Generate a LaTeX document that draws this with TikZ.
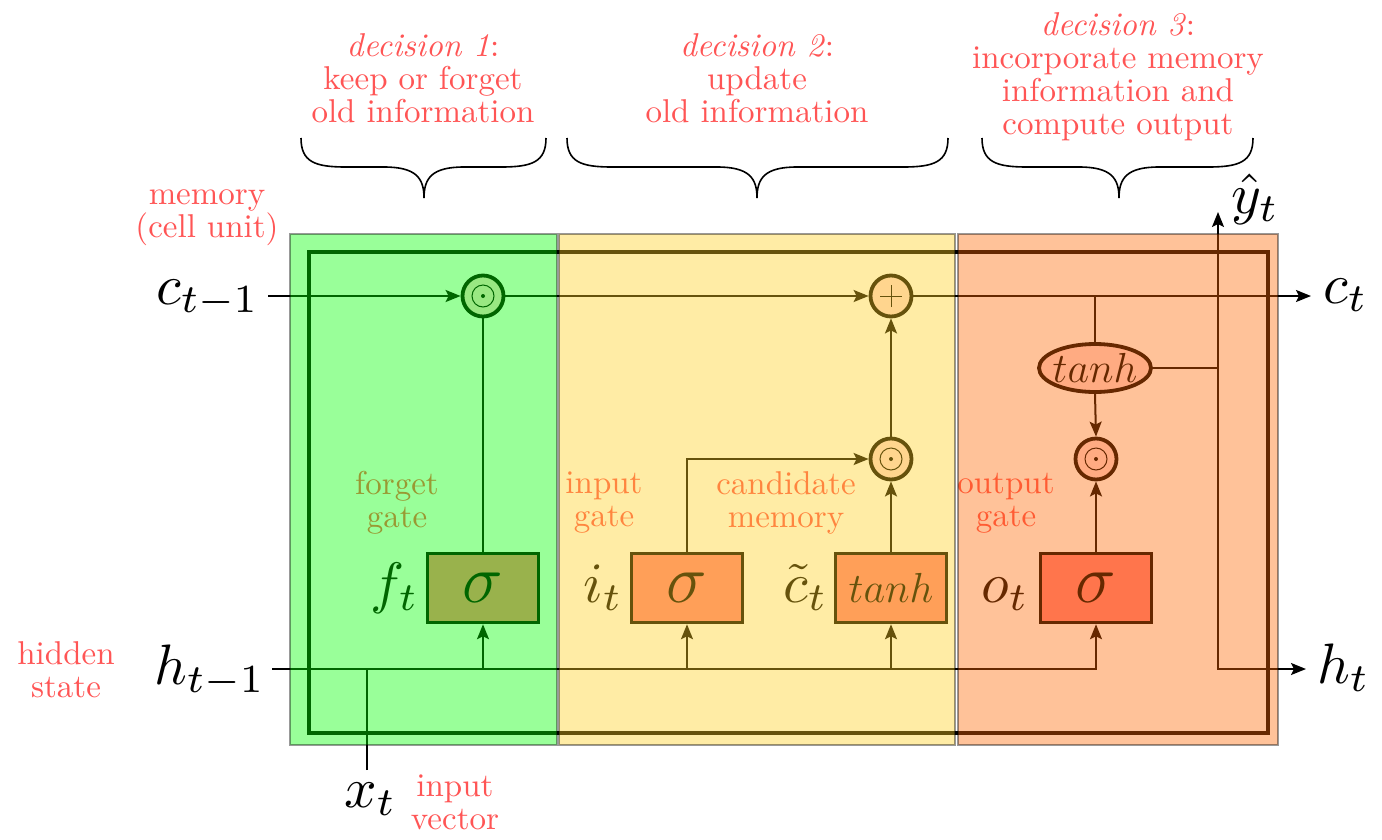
\documentclass[tikz,border=0pt]{standalone}
\usepackage{graphicx}
\usetikzlibrary{arrows.meta,shapes.geometric}
\definecolor{txtred}{RGB}{255,85,85}
\definecolor{pgreen}{RGB}{0,255,0}
\definecolor{pyellow}{RGB}{255,207,30}
\definecolor{porange}{RGB}{255,102,0}
\definecolor{boxfill}{RGB}{255,128,128}
\definecolor{opfill}{RGB}{255,217,217}
\begin{document}
\begin{tikzpicture}[x=1pt,y=-1pt,
  wire/.style={line width=2pt},
  arr/.style={line width=2pt,-{Stealth[length=15pt,width=12pt,inset=3pt]}},
  opnode/.style={circle,draw,line width=3.8pt,fill=opfill,minimum size=41pt,inner sep=0pt},
  gatebox/.style={rectangle,draw,line width=3.5pt,fill=boxfill,minimum width=111pt,minimum height=69pt,inner sep=0pt},
  redtxt/.style={scale=3.3,text=txtred,align=center,font=\fontsize{10}{10}\selectfont},
  mathlbl/.style={scale=5.7,inner sep=0pt,font=\normalsize},
  panel/.style={draw=black,line width=2.5pt,opacity=0.4},
  bracepath/.style={line width=1.6pt}]
\useasboundingbox (0,0) rectangle (1382,839);

% cell border
\draw[line width=4.5pt] (309,252) rectangle (1268,733);

% operation nodes
\node[opnode] (fmul) at (483,296) {};
\node[opnode] (add) at (891,296) {};
\node[opnode] (imul) at (891,459) {};
\node[opnode] (omul) at (1096,459) {};
\foreach \n in {fmul,imul,omul}{
  \draw[line width=1pt] (\n) circle (11pt);
  \fill (\n) circle (2pt);
}
\draw[line width=1pt] ([xshift=-11pt]add.center) -- ([xshift=11pt]add.center);
\draw[line width=1pt] ([yshift=-11pt]add.center) -- ([yshift=11pt]add.center);

% gate boxes
\node[gatebox] (fbox) at (483,588) {\scalebox{3.3}{\huge$\sigma$}};
\node[gatebox] (ibox) at (687,588) {\scalebox{3.3}{\huge$\sigma$}};
\node[gatebox] (cbox) at (891,588) {\scalebox{3.5}{\large$tanh$}};
\node[gatebox] (obox) at (1096,588) {\scalebox{3.3}{\huge$\sigma$}};
\node[ellipse,draw,line width=3.8pt,fill=opfill,minimum width=112pt,minimum height=48pt,inner sep=0pt] (otanh) at (1095,368) {};
\node (otanhlbl) at (otanh) {\scalebox{3.5}{\large$tanh$}};

% gate labels (under overlay)
\node[mathlbl,anchor=base east] (flbl) at (420,602) {$f_t$};
\node[mathlbl,anchor=base east] (ilbl) at (624,602) {$i_t$};
\node[mathlbl,anchor=base east] (clbl) at (829,602) {$\tilde{c}_t$};
\node[mathlbl,anchor=base east] (olbl) at (1030,602) {$o_t$};
\node[redtxt] (fgl) at (397,503) {forget\\gate};
\node[redtxt] (igl) at (604,503) {input\\gate};
\node[redtxt] (cml) at (786,503) {candidate\\memory};
\node[redtxt] (ogl) at (1006,503) {output\\gate};

% coordinates
\coordinate (cin) at (268,296);
\coordinate (cout) at (1311,296);
\coordinate (hin) at (272,669);
\coordinate (hout) at (1306,669);
\coordinate (xin) at (367,770);
\coordinate (yj) at (1218,368);
\coordinate (ytop) at (1218,212);

% connectors
\draw[arr] (cin) -- (fmul.west);
\draw[arr] (fmul.east) -- (add.west);
\draw[arr] (add.east) -- (cout);
\draw[wire] (fbox.north) -- (fmul.south);
\draw[arr] (hin) -| (obox.south);
\draw[arr] (fbox.south |- hin) -- (fbox.south);
\draw[arr] (ibox.south |- hin) -- (ibox.south);
\draw[arr] (cbox.south |- hin) -- (cbox.south);
\draw[wire] (xin) -- (xin |- hin);
\draw[arr] (ibox.north) |- (imul.west);
\draw[arr] (cbox.north) -- (imul.south);
\draw[arr] (imul.north) -- (add.south);
\draw[wire] (otanh.north |- add.east) -- (otanh.north);
\draw[arr] (otanh.south) -- (omul.north);
\draw[arr] (obox.north) -- (omul.south);
\draw[wire] (otanh.east) -- (yj);
\draw[arr] (yj) -- (ytop);
\draw[arr] (yj) |- (hout);

% translucent panels
\draw[panel,fill=pgreen] (290,234) rectangle (557,745);
\draw[panel,fill=pyellow] (559,234) rectangle (955,745);
\draw[panel,fill=porange] (958,234) rectangle (1278,745);

% outside labels
\node[mathlbl,anchor=base west] (cm1) at (155,304) {$c_{t-1}$};
\node[mathlbl,anchor=base west] (hm1) at (153,684) {$h_{t-1}$};
\node[mathlbl,anchor=base west] (ct) at (1322,303) {$c_t$};
\node[mathlbl,anchor=base west] (ht) at (1316,683) {$h_t$};
\node[mathlbl,anchor=base west] (xt) at (343,807) {$x_t$};
\node[mathlbl,anchor=base west] (yh) at (1230,213) {$\hat{y}_t$};

\node[redtxt] (dec1) at (423,78.5) {\textit{decision 1}:\\keep or forget\\old information};
\node[redtxt] (dec2) at (757,78.5) {\textit{decision 2}:\\update\\old information};
\node[redtxt] (dec3) at (1118,77) {\textit{decision 3}:\\incorporate memory\\information and\\compute output};
\node[redtxt] (meml) at (207,218) {memory\\(cell unit)};
\node[redtxt] (hidl) at (66,669.5) {hidden\\state};
\node[redtxt] (inl) at (455,802) {input\\vector};

% braces
\foreach \L/\M/\R in {301/424/546, 567/757/948, 982/1119/1253}{
  \draw[bracepath] (\L,138) .. controls (\L,162) and (\L+14,167) .. (\L+45,167)
    -- (\M-40,167) .. controls (\M-8,167) and (\M,178) .. (\M,198)
    .. controls (\M,178) and (\M+8,167) .. (\M+40,167)
    -- (\R-45,167) .. controls (\R-14,167) and (\R,162) .. (\R,138);
}
\end{tikzpicture}
\end{document}
